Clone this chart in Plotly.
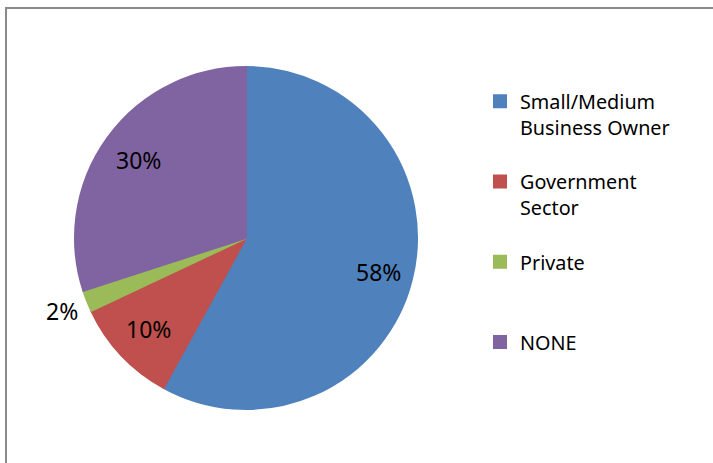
import math
import plotly.graph_objects as go

categories = ["Small/Medium Business Owner", "Government Sector", "Private", "NONE"]
legend_labels = ["Small/Medium<br>Business Owner<br> ", "Government<br>Sector<br> ", "Private<br> <br> ", "NONE"]
values = [58, 10, 2, 30]
colors = ["#4F81BD", "#C0504D", "#9BBB59", "#8064A2"]
label_radius = [0.80, 0.78, 1.16, 0.78]  # fraction of pie radius for percent labels

W, H = 713, 463
cx, cy, r = 246, 238, 171
FONT = "Noto Sans"

fig = go.Figure(go.Pie(
    labels=legend_labels,
    values=values,
    customdata=categories,
    hovertemplate="%{customdata}: %{percent}<extra></extra>",
    sort=False,
    direction="clockwise",
    rotation=0,
    marker=dict(colors=colors, line=dict(color=colors, width=2)),
    textinfo="none",
    domain=dict(x=[(cx - r) / W, (cx + r) / W], y=[(H - cy - r) / H, (H - cy + r) / H]),
))

# percent labels placed along each slice's mid-angle
total = sum(values)
annotations = []
cum = 0
for v, k in zip(values, label_radius):
    theta = 2 * math.pi * (cum + v / 2) / total
    cum += v
    px = cx + k * r * math.sin(theta)
    py = cy - k * r * math.cos(theta)
    annotations.append(dict(
        x=px / W, y=1 - py / H, xref="paper", yref="paper",
        text=f"{round(100 * v / total)}%", showarrow=False,
        font=dict(family=FONT, size=23, color="black"),
        xanchor="center", yanchor="middle",
    ))

fig.update_layout(
    width=W, height=H,
    margin=dict(l=0, r=0, t=0, b=0),
    paper_bgcolor="white",
    showlegend=True,
    legend=dict(
        x=480 / W, y=1 - 82 / H, xanchor="left", yanchor="top",
        valign="top",
        font=dict(family=FONT, size=19.8, color="black"),
        bgcolor="rgba(0,0,0,0)",
    ),
    annotations=annotations,
    shapes=[dict(type="rect", xref="paper", yref="paper",
                 x0=6 / W, x1=1.02, y0=-0.02, y1=1 - 8 / H,
                 line=dict(color="#8a8a8a", width=2))],
)

fig.write_html("out.html", config={"displayModeBar": False},
               post_script="document.body.style.margin='0';")
